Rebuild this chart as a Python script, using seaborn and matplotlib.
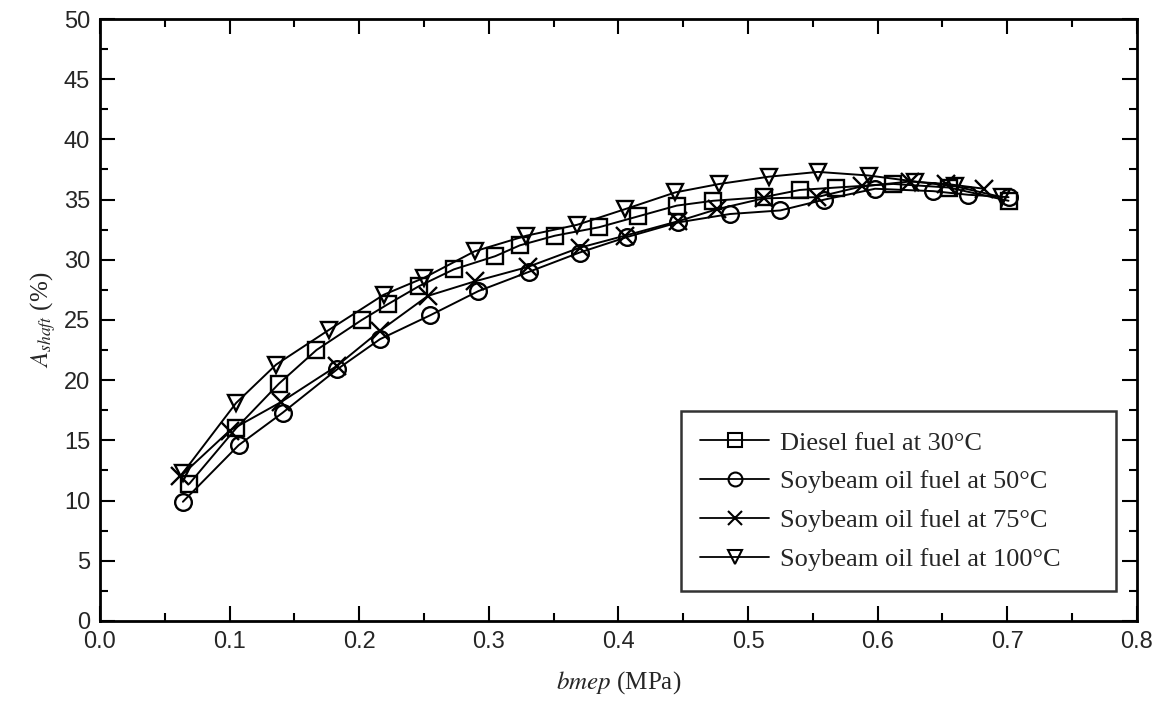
import matplotlib
matplotlib.use("Agg")
import matplotlib.pyplot as plt
from matplotlib.lines import Line2D
from matplotlib.ticker import MultipleLocator
import seaborn as sns
import pandas as pd

# ---- data ----
diesel_x = [0.069, 0.105, 0.138, 0.167, 0.202, 0.222, 0.246, 0.273, 0.305, 0.324, 0.351,
            0.385, 0.415, 0.445, 0.473, 0.512, 0.540, 0.568, 0.612, 0.655, 0.701]
diesel_y = [11.4, 16.0, 19.7, 22.5, 25.0, 26.3, 27.8, 29.2, 30.3, 31.2, 32.0,
            32.7, 33.6, 34.5, 34.9, 35.2, 35.8, 36.0, 36.3, 36.0, 34.9]

soy50_x = [0.064, 0.107, 0.141, 0.183, 0.216, 0.255, 0.292, 0.331, 0.370, 0.407,
           0.446, 0.486, 0.525, 0.559, 0.598, 0.643, 0.670, 0.701]
soy50_y = [9.9, 14.6, 17.3, 20.9, 23.4, 25.4, 27.4, 29.0, 30.6, 31.9,
           33.1, 33.8, 34.1, 35.0, 35.9, 35.7, 35.4, 35.2]

soy75_x = [0.062, 0.100, 0.140, 0.183, 0.216, 0.253, 0.289, 0.330, 0.370, 0.405,
           0.446, 0.476, 0.512, 0.553, 0.588, 0.625, 0.653, 0.682]
soy75_y = [12.0, 15.8, 18.2, 21.2, 24.1, 27.0, 28.2, 29.4, 31.0, 32.0,
           33.2, 34.2, 35.1, 35.2, 36.1, 36.5, 36.3, 35.9]

soy100_x = [0.064, 0.105, 0.136, 0.177, 0.219, 0.250, 0.289, 0.329, 0.368, 0.405,
            0.444, 0.478, 0.516, 0.554, 0.593, 0.629, 0.660, 0.696]
soy100_y = [12.3, 18.1, 21.3, 24.2, 27.1, 28.5, 30.7, 32.0, 32.9, 34.2,
            35.6, 36.3, 36.9, 37.3, 37.0, 36.5, 36.1, 35.2]

series_names = ["Diesel fuel at 30°C", "Soybeam oil fuel at 50°C",
                "Soybeam oil fuel at 75°C", "Soybeam oil fuel at 100°C"]
series_x = [diesel_x, soy50_x, soy75_x, soy100_x]
series_y = [diesel_y, soy50_y, soy75_y, soy100_y]
series_markers = ["s", "o", "x", "v"]

x_ticks = [0.0, 0.1, 0.2, 0.3, 0.4, 0.5, 0.6, 0.7, 0.8]
y_ticks = [0, 5, 10, 15, 20, 25, 30, 35, 40, 45, 50]

# ---- plotting ----
sns.set_theme(style="white")
plt.rcParams["font.family"] = ["Liberation Sans", "DejaVu Sans"]
plt.rcParams["mathtext.fontset"] = "stix"

fig = plt.figure(figsize=(11.69, 7.04), dpi=100)
ax = fig.add_axes([0.0855, 0.118, 0.887, 0.855])

frames = []
for name, xs, ys in zip(series_names, series_x, series_y):
    frames.append(pd.DataFrame({"bmep": xs, "A": ys, "series": name}))
df = pd.concat(frames, ignore_index=True)

for name, mk in zip(series_names, series_markers):
    sub = df[df["series"] == name]
    sns.lineplot(data=sub, x="bmep", y="A", ax=ax, sort=False, color="black",
                 linewidth=1.4, marker=mk, markersize=12 if mk != "x" else 13,
                 markerfacecolor="none", markeredgecolor="black",
                 markeredgewidth=1.7, estimator=None, legend=False)

ax.set_xlim(0.0, 0.8)
ax.set_ylim(0, 50)
ax.set_xticks(x_ticks)
ax.set_xticklabels([f"{t:.1f}" for t in x_ticks])
ax.set_yticks(y_ticks)
ax.set_yticklabels([str(t) for t in y_ticks])
ax.xaxis.set_minor_locator(MultipleLocator(0.05))
ax.yaxis.set_minor_locator(MultipleLocator(2.5))
ax.tick_params(which="both", direction="in", top=True, right=True,
               bottom=True, left=True, color="black", width=1.5)
ax.tick_params(which="major", length=11, labelsize=17, pad=7)
ax.tick_params(which="minor", length=6)
for s in ax.spines.values():
    s.set_color("black")
    s.set_linewidth(2)

ax.set_xlabel(r"$\mathit{bmep}$ (MPa)", fontsize=18, family="Liberation Serif", labelpad=12)
ax.set_ylabel(r"$\mathit{A}_{\mathit{shaft}}$ (%)", fontsize=18, family="Liberation Serif", labelpad=4)

handles = [Line2D([0], [0], color="black", lw=1.3, marker=mk, markersize=10,
                  markerfacecolor="none", markeredgecolor="black", markeredgewidth=1.5)
           for mk in series_markers]
leg = ax.legend(handles, series_names, loc="lower left",
                bbox_to_anchor=(0.56, 0.05, 0.42, 0.305),
                mode="expand", frameon=True, fancybox=False, edgecolor="black",
                prop={"family": "Liberation Serif", "size": 19}, handlelength=2.6,
                labelspacing=0.58, borderpad=0.75, handletextpad=0.4, borderaxespad=0)
leg.get_frame().set_linewidth(1.8)

fig.savefig("out.png", dpi=100, facecolor="white")
